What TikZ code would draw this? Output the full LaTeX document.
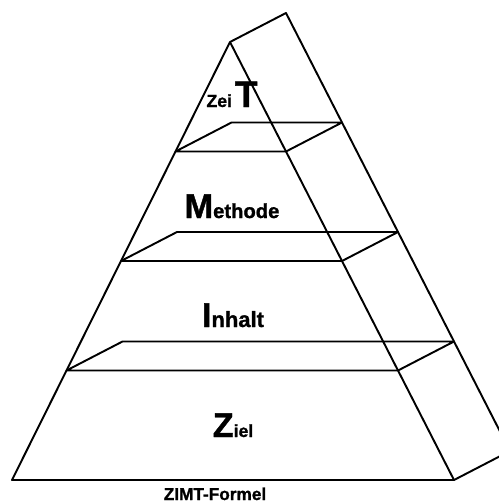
\documentclass[tikz,border=0pt]{standalone}
\usepackage{fontspec}
\setmainfont{Liberation Sans}
\newfontfamily\dick{Liberation Sans Bold}[FakeBold=1.2]
\usetikzlibrary{calc}

\tikzset{
    kante/.style={line width=1.1pt, line join=round},
    stufe/.style={anchor=base, inner sep=0pt, font=\dick},
}
\newcommand{\grossbst}[1]{{\fontsize{19.5}{20}\selectfont #1}}
\newcommand{\kleinbst}[2]{{\fontsize{#1}{#1}\selectfont #2}}

\begin{document}
\begin{tikzpicture}[x=0.02cm, y=-0.02cm]
    \useasboundingbox (0,0) rectangle (499,504);
    \clip (0,0) rectangle (499,504);

    % Eckpunkte
    \coordinate (A) at (230,42);
    \coordinate (L) at (12,480);
    \coordinate (R) at (454,480);
    \coordinate (o) at (56,-29);

    % Vorderseite und Rueckseite
    \draw[kante] (L) -- (A) -- (R) -- cycle;
    \draw[kante] (A) -- ($(A)+(o)$) -- ($(R)+(o)$) -- (R);

    % Stufen
    \draw[kante] ($(A)!0.25!(L)$) -- ($(A)!0.25!(R)$) -- ($(A)!0.25!(R)+(o)$)
        -- ($(A)!0.25!(L)+(o)$) -- cycle;
    \draw[kante] ($(A)!0.5!(L)$) -- ($(A)!0.5!(R)$) -- ($(A)!0.5!(R)+(o)$)
        -- ($(A)!0.5!(L)+(o)$) -- cycle;
    \draw[kante] ($(A)!0.75!(L)$) -- ($(A)!0.75!(R)$) -- ($(A)!0.75!(R)+(o)$)
        -- ($(A)!0.75!(L)+(o)$) -- cycle;

    % Beschriftung
    \node[stufe] (zeit) at (232,107) {\kleinbst{10}{Zei}\,{\fontsize{21}{21}\selectfont T}};
    \node[stufe] (methode) at (232,218) {\grossbst{M}\kleinbst{11.5}{ethode}};
    \node[stufe] (inhalt) at (233,327) {\grossbst{I}\kleinbst{12.5}{nhalt}};
    \node[stufe] (ziel) at (233,437) {\grossbst{Z}\kleinbst{10}{iel}};
    \node[stufe, font=\dick\fontsize{9.8}{10}\selectfont] (titel) at (215,500) {ZIMT-Formel};
\end{tikzpicture}
\end{document}
